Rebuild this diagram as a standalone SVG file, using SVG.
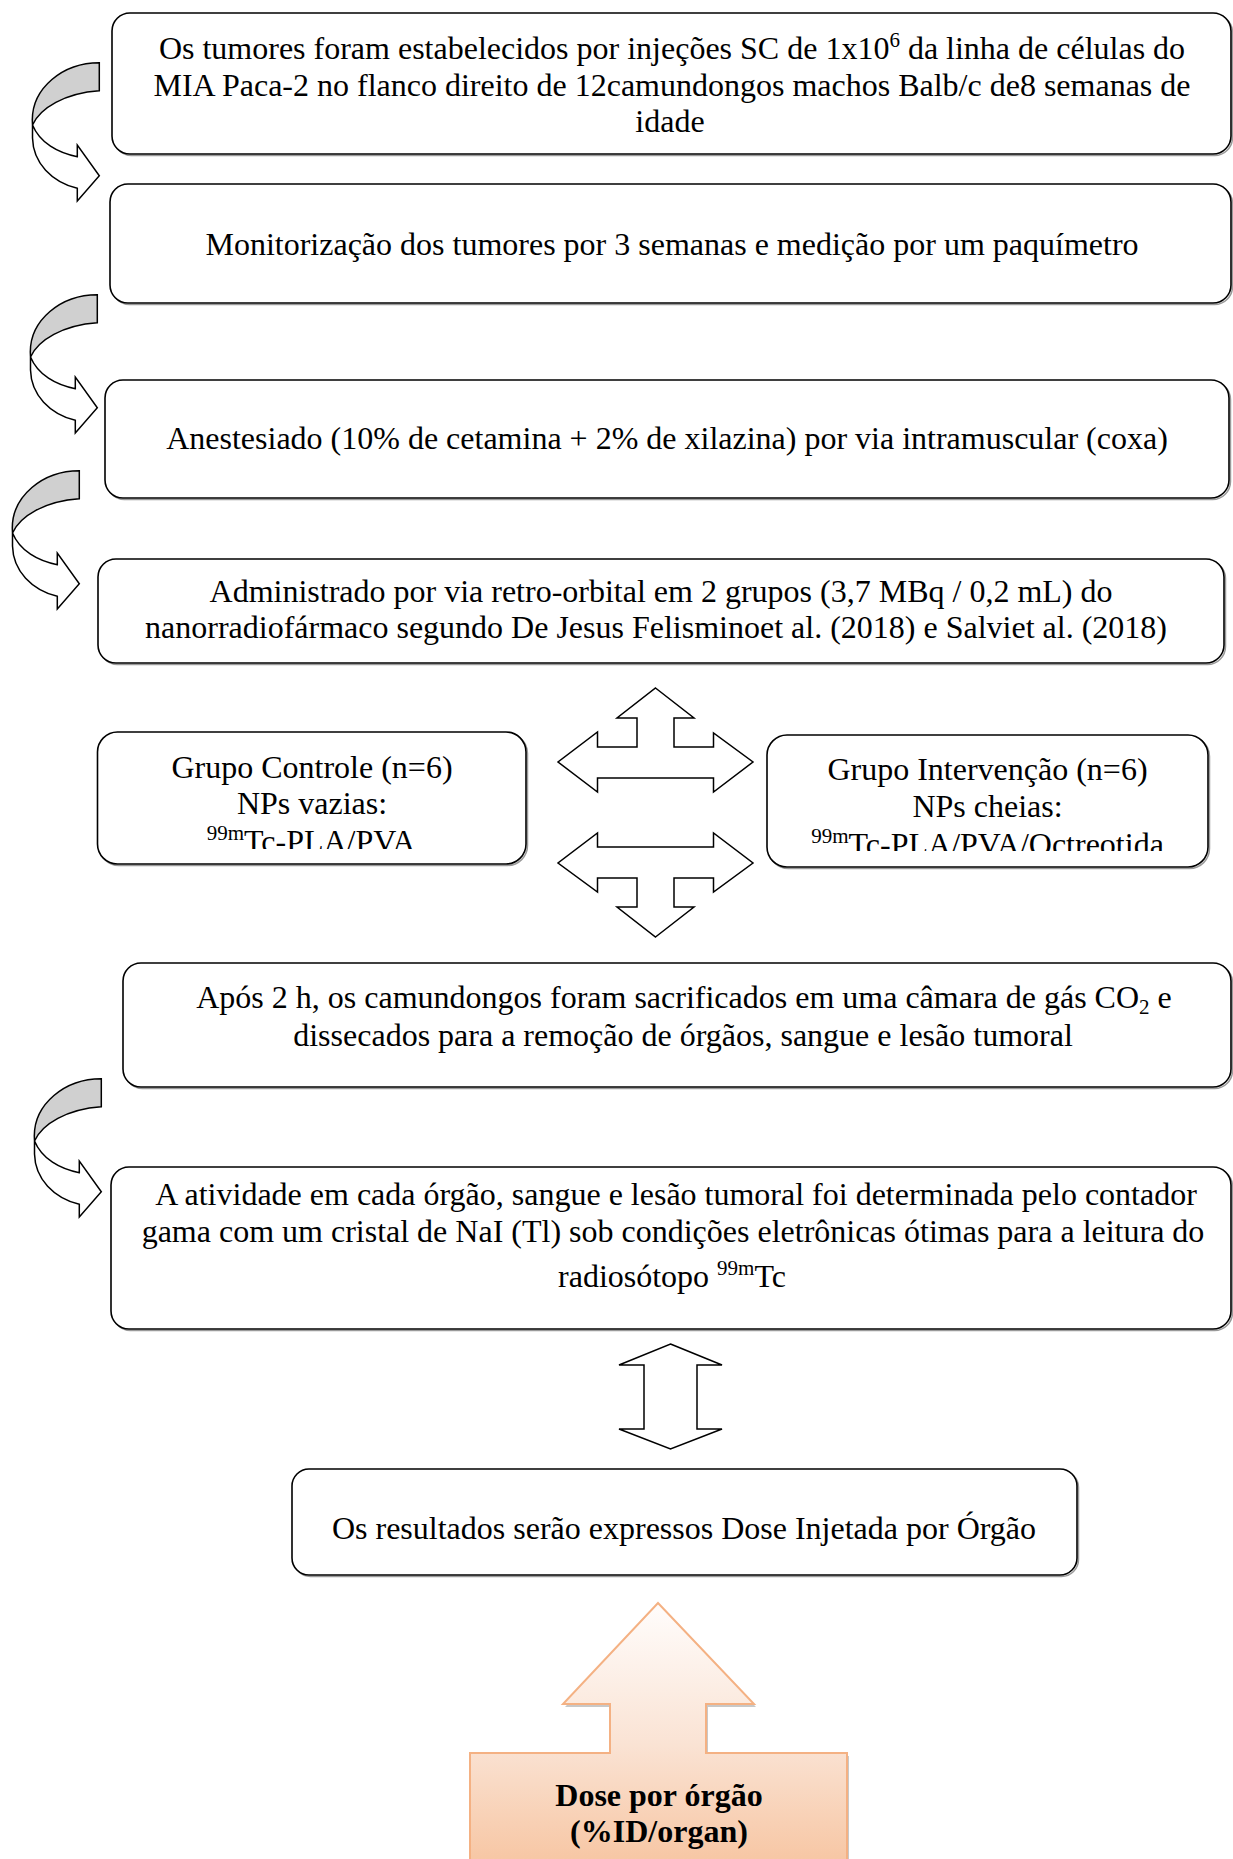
<svg xmlns="http://www.w3.org/2000/svg" width="1233" height="1859" viewBox="0 0 1233 1859">
<style>
  .box { fill: #ffffff; stroke: #000000; stroke-width: 1.6; }
  .shadow { fill: none; stroke: #9a9a9a; stroke-width: 1.5; }
  .t { font-family: "Liberation Serif", "Times New Roman", serif; font-size: 32px; fill: #000000; text-anchor: middle; }
  .tb { font-family: "Liberation Serif", "Times New Roman", serif; font-size: 32px; font-weight: bold; fill: #000000; text-anchor: middle; }
  .sup { font-size: 21px; }
  .arrow { fill: #ffffff; stroke: #000000; stroke-width: 1.5; stroke-linejoin: miter; }
  .back { fill: #d0d0d0; stroke: #000000; stroke-width: 1.5; }
  .front { fill: #ffffff; stroke: #000000; stroke-width: 1.5; }
</style>
<defs>
  <g id="curved">
    <path class="front" d="M32.5,125 L32.5,138 C33,163 52,182 77.3,188.3 L77.3,201 L99.3,175.7 L77.3,145 L77.3,156.7 C58,153 40,143 32.5,125 Z"/>
    <path class="back" d="M99.3,62.7 A67,57.3 0 0 0 32.3,120 L32.5,125 C40,108 65,93 99.3,90.7 Z"/>
  </g>
  <linearGradient id="orangeGrad" gradientUnits="userSpaceOnUse" x1="0" y1="1603" x2="0" y2="1859">
    <stop offset="0" stop-color="#fffdfc"/>
    <stop offset="0.55" stop-color="#fae3d4"/>
    <stop offset="1" stop-color="#f7c7a5"/>
  </linearGradient>
  <clipPath id="clipC"><rect x="90" y="700" width="450" height="149"/></clipPath>
  <clipPath id="clipI"><rect x="760" y="700" width="460" height="151"/></clipPath>
</defs>

<g id="connectors">
  <use href="#curved"/>
  <use href="#curved" transform="translate(-2,232)"/>
  <use href="#curved" transform="translate(-20,408)"/>
  <use href="#curved" transform="translate(2,1016)"/>
  <path class="arrow" d="M655.5,688 L694,718 L674,718 L674,747 L713.5,747 L713.5,733 L753,762 L713.5,792 L713.5,778 L597.5,778 L597.5,792 L558,762 L597.5,732 L597.5,747 L637,747 L637,718 L617,718 Z"/>
  <path class="arrow" d="M655.5,937 L694,907 L674,907 L674,878 L713.5,878 L713.5,892 L753,863 L713.5,833 L713.5,847 L597.5,847 L597.5,833 L558,863 L597.5,892 L597.5,878 L637,878 L637,907 L617,907 Z"/>
  <path class="arrow" d="M670.5,1344 L722,1365 L697,1365 L697,1429 L722,1429 L670.5,1449 L619,1429 L644,1429 L644,1365 L619,1365 Z"/>
</g>

<g id="node1">
  <rect class="shadow" x="113.5" y="14.5" width="1119" height="141" rx="18"/>
  <rect class="box" x="112" y="13" width="1119" height="141" rx="18"/>
  <text class="t" x="672" y="59">Os tumores foram estabelecidos por injeções SC de 1x10<tspan class="sup" dy="-12">6</tspan><tspan dy="12"> da linha de células do</tspan></text>
  <text class="t" x="672" y="96">MIA Paca-2 no flanco direito de 12camundongos machos Balb/c de8 semanas de</text>
  <text class="t" x="670" y="132">idade</text>
</g>

<g id="node2">
  <rect class="shadow" x="111.5" y="185.5" width="1121" height="119" rx="18"/>
  <rect class="box" x="110" y="184" width="1121" height="119" rx="18"/>
  <text class="t" x="672" y="255">Monitorização dos tumores por 3 semanas e medição por um paquímetro</text>
</g>

<g id="node3">
  <rect class="shadow" x="106.5" y="381.5" width="1124" height="118" rx="18"/>
  <rect class="box" x="105" y="380" width="1124" height="118" rx="18"/>
  <text class="t" x="667" y="449">Anestesiado (10% de cetamina + 2% de xilazina) por via intramuscular (coxa)</text>
</g>

<g id="node4">
  <rect class="shadow" x="99.5" y="560.5" width="1126" height="104" rx="18"/>
  <rect class="box" x="98" y="559" width="1126" height="104" rx="18"/>
  <text class="t" x="661" y="602">Administrado por via retro-orbital em 2 grupos (3,7 MBq / 0,2 mL) do</text>
  <text class="t" x="656" y="638">nanorradiofármaco segundo De Jesus Felisminoet al. (2018) e Salviet al. (2018)</text>
</g>

<g id="nodeControle">
  <rect class="shadow" x="99" y="733.5" width="428.5" height="132" rx="20"/>
  <rect class="box" x="97.5" y="732" width="428.5" height="132" rx="20"/>
  <text class="t" x="312" y="778">Grupo Controle (n=6)</text>
  <text class="t" x="312" y="814">NPs vazias:</text>
  <text class="t" x="311" y="852" clip-path="url(#clipC)"><tspan class="sup" dy="-12">99m</tspan><tspan dy="12">Tc-PLA/PVA</tspan></text>
</g>

<g id="nodeIntervencao">
  <rect class="shadow" x="768.5" y="736.5" width="441" height="132" rx="20"/>
  <rect class="box" x="767" y="735" width="441" height="132" rx="20"/>
  <text class="t" x="987.5" y="780">Grupo Intervenção (n=6)</text>
  <text class="t" x="987.5" y="817">NPs cheias:</text>
  <text class="t" x="987.5" y="855" clip-path="url(#clipI)"><tspan class="sup" dy="-12">99m</tspan><tspan dy="12">Tc-PLA/PVA/Octreotida</tspan></text>
</g>

<g id="node5">
  <rect class="shadow" x="124.5" y="964.5" width="1108" height="124" rx="18"/>
  <rect class="box" x="123" y="963" width="1108" height="124" rx="18"/>
  <text class="t" x="684" y="1008">Após 2 h, os camundongos foram sacrificados em uma câmara de gás CO<tspan class="sup" dy="6">2</tspan><tspan dy="-6"> e</tspan></text>
  <text class="t" x="683" y="1046">dissecados para a remoção de órgãos, sangue e lesão tumoral</text>
</g>

<g id="node6">
  <rect class="shadow" x="112.5" y="1168.5" width="1120" height="162" rx="18"/>
  <rect class="box" x="111" y="1167" width="1120" height="162" rx="18"/>
  <text class="t" x="676" y="1205">A atividade em cada órgão, sangue e lesão tumoral foi determinada pelo contador</text>
  <text class="t" x="673" y="1242">gama com um cristal de NaI (Tl) sob condições eletrônicas ótimas para a leitura do</text>
  <text class="t" x="672" y="1287">radiosótopo <tspan class="sup" dy="-12">99m</tspan><tspan dy="12">Tc</tspan></text>
</g>

<g id="node7">
  <rect class="shadow" x="293.5" y="1470.5" width="785" height="106" rx="17"/>
  <rect class="box" x="292" y="1469" width="785" height="106" rx="17"/>
  <text class="t" x="684" y="1539">Os resultados serão expressos Dose Injetada por Órgão</text>
</g>

<g id="nodeDose">
  <path d="M660,1606 L756,1707 L708,1707 L708,1756 L849,1756 L849,1870 L472,1870 L472,1756 L612,1756 L612,1707 L565,1707 Z" fill="#9a9a9a" opacity="0.55"/>
  <path d="M658,1603 L754,1704 L706,1704 L706,1753 L847,1753 L847,1870 L470,1870 L470,1753 L610,1753 L610,1704 L563,1704 Z" fill="url(#orangeGrad)" stroke="#f4b183" stroke-width="2"/>
  <text class="tb" x="659" y="1806">Dose por órgão</text>
  <text class="tb" x="659" y="1842">(%ID/organ)</text>
</g>
</svg>
